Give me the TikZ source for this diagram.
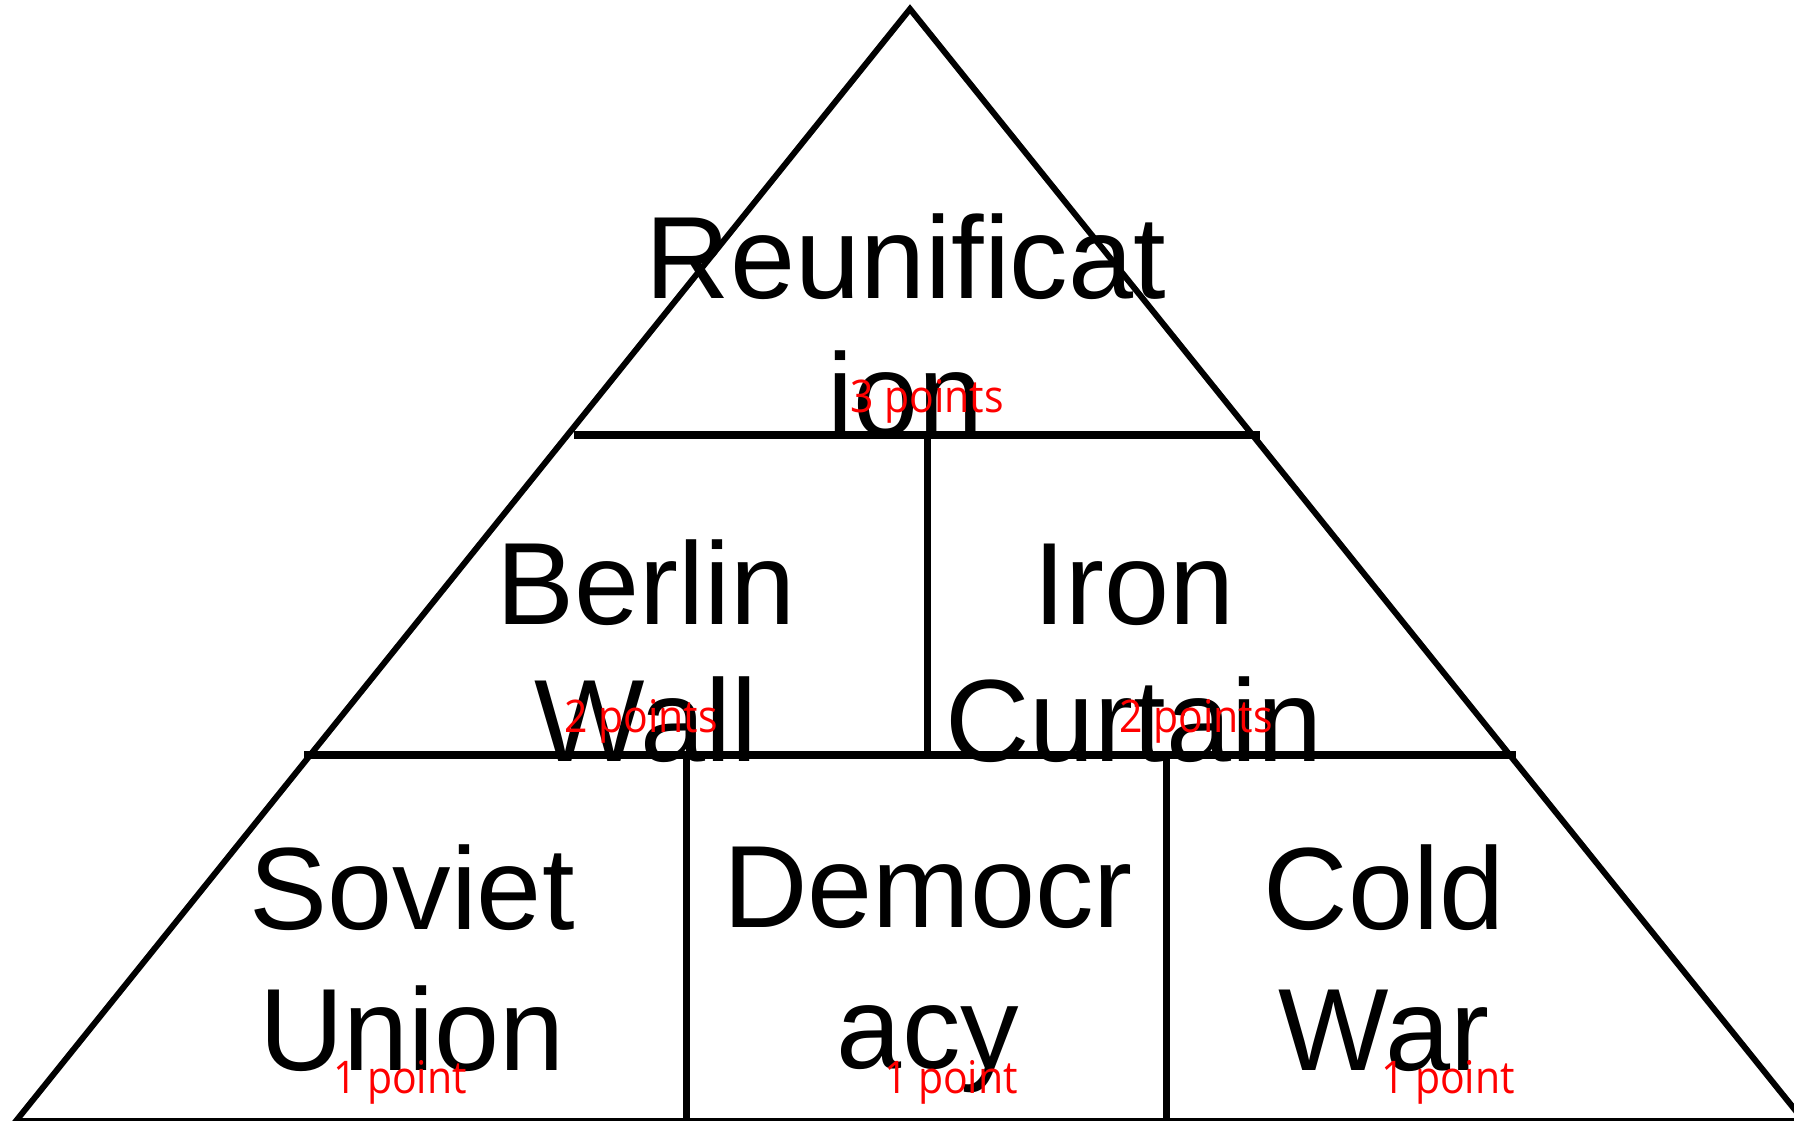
\documentclass[tikz,border=0pt]{standalone}
\usepackage{fontspec}
\setmainfont{Liberation Sans}
\newfontfamily\labelfont[FakeStretch=0.91]{Open Sans}
\begin{document}
\begin{tikzpicture}[x=1pt,y=-1pt,
  edge/.style={line width=6pt,line join=miter},
  bar/.style={line width=8pt},
  divider/.style={line width=7pt},
  word/.style={inner sep=0pt,anchor=base,font=\fontsize{117}{137}\selectfont},
  pts/.style={inner sep=0pt,anchor=base,text=red,font=\labelfont\fontsize{45}{54}\selectfont}]
\useasboundingbox (0,0) rectangle (1794,1121);
% triangle
\coordinate (apex) at (910,9);
\coordinate (bl) at (16,1121);
\coordinate (br) at (1804,1121);
\draw[edge] (bl) -- (apex) -- (br) -- cycle;
% horizontal bars
\coordinate (h1l) at (574,435);
\coordinate (h1r) at (1260,435);
\coordinate (h2l) at (304,755);
\coordinate (h2r) at (1516,755);
\draw[bar] (h1l) -- (h1r);
\draw[bar] (h2l) -- (h2r);
% vertical dividers
\coordinate (v1t) at (927,435);
\coordinate (v1b) at (927,755);
\coordinate (v2t) at (686,755);
\coordinate (v2b) at (686,1121);
\coordinate (v3t) at (1166,755);
\coordinate (v3b) at (1166,1121);
\draw[divider] (v1t) -- (v1b);
\draw[divider] (v2t) -- (v2b);
\draw[divider] (v3t) -- (v3b);
% words
\node[word] (reunA) at (906,298) {Reunificat};
\node[word] (reunB) at (906,435) {ion};
\node[word] (berA) at (646,624) {Berlin};
\node[word] (berB) at (646,761) {Wall};
\node[word] (ironA) at (1134,624) {Iron};
\node[word] (ironB) at (1134,761) {Curtain};
\node[word] (sovA) at (412,929) {Soviet};
\node[word] (sovB) at (412,1070) {Union};
\node[word] (demA) at (928,927) {Democr};
\node[word] (demB) at (928,1068) {acy};
\node[word] (coldA) at (1384,929) {Cold};
\node[word] (coldB) at (1384,1070) {War};
% points
\node[pts] (p3) at (927,412) {3 points};
\node[pts] (p2a) at (641,732) {2 points};
\node[pts] (p2b) at (1196,732) {2 points};
\node[pts] (p1a) at (400,1093) {1 point};
\node[pts] (p1b) at (951,1093) {1 point};
\node[pts] (p1c) at (1448,1093) {1 point};
\end{tikzpicture}
\end{document}
